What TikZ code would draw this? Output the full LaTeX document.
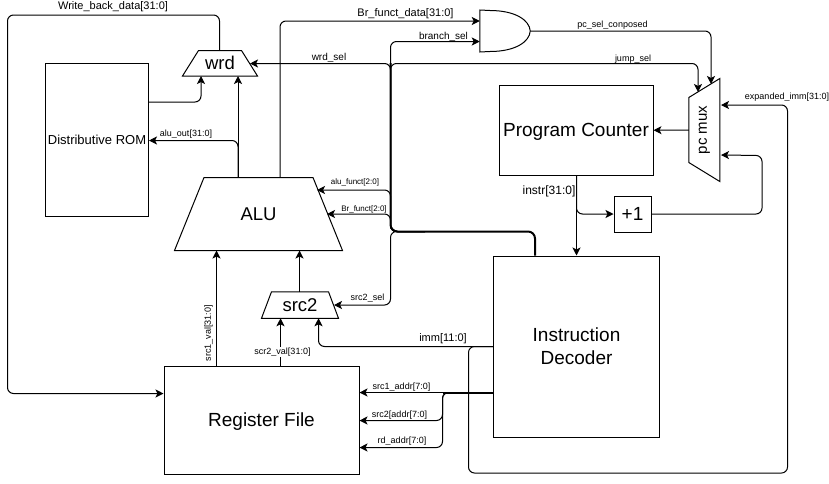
\documentclass[tikz,border=0pt]{standalone}
\usepackage{fontspec}
\setmainfont{Liberation Sans}
\usetikzlibrary{arrows.meta}

\tikzset{
  block/.style={draw,rectangle,inner sep=0pt,font=\fontsize{19}{23}\selectfont,align=center},
  muxbox/.style={rectangle,inner sep=0pt,font=\fontsize{18.5}{22}\selectfont},
  sig/.style={draw,rounded corners=6pt,line width=1pt,-{Stealth[length=8pt,width=8pt,inset=2pt]}},
  busline/.style={draw,rounded corners=7pt,line width=2pt},
  tag/.style={inner sep=0pt,yshift=-1pt,font=\fontsize{#1}{#1}\selectfont},
}
% outline of a mux: the node's box with its top edge pulled in by #2
\newcommand{\muxoutline}[2]{\draw (#1.south west) -- ([xshift=#2pt]#1.north west) -- ([xshift=-#2pt]#1.north east) -- (#1.south east) -- cycle;}

\begin{document}
\begin{tikzpicture}[x=1pt,y=-1pt,line width=1pt]
\useasboundingbox (0,0) rectangle (829,483);

\node[block,minimum width=103pt,minimum height=153pt,font=\fontsize{13}{16}\selectfont] (rom) at (97,140) {Distributive ROM};
\node[block,minimum width=195pt,minimum height=108.5pt,text height=17pt] (regfile) at (261.5,420.25) {Register File};
\node[block,minimum width=166pt,minimum height=181pt] (decoder) at (576.5,346.5) {Instruction\\Decoder};
\node[block,minimum width=154pt,minimum height=90.5pt,text height=17pt] (pc) at (576,130.25) {Program Counter};
\node[block,minimum width=37pt,minimum height=36pt] (plusone) at (632.5,214) {+1};

\node[muxbox,minimum width=74pt,minimum height=24.5pt] (wrd) at (220,63.25) {wrd};
\node[muxbox,minimum width=167pt,minimum height=72pt] (alu) at (258.5,214) {ALU};
\node[muxbox,minimum width=76pt,minimum height=25.5pt] (srcmux) at (300,305) {src2};
\node[muxbox,minimum width=102pt,minimum height=30pt,rotate=90,font=\fontsize{15}{18}\selectfont] (pcmux) at (704.3,130) {pc mux};
\node[rectangle,inner sep=0pt,minimum width=49.5pt,minimum height=41pt] (andgate) at (505,31) {};

\muxoutline{wrd}{16}
\muxoutline{alu}{29.5}
\muxoutline{srcmux}{10}
\draw (pcmux.south east) -- ([yshift=-19pt]pcmux.north east) -- ([yshift=19pt]pcmux.north west) -- (pcmux.south west) -- cycle;
\draw (andgate.north west) -- (490,10.5) .. controls (515,10.5) and (529.5,20) .. (andgate.east) .. controls (529.5,42) and (515,51.5) .. (490,51.5) -- (andgate.south west) -- cycle;

% control bus out of the decoder
\coordinate (bus) at (425,231.5);
\coordinate (buscorner) at (390.5,231.5);
\coordinate (alufnin) at (317,190);
\coordinate (brfnin) at (327,214);
\coordinate (wrdin) at (250,63.5);
\coordinate (jumpin) at (698,92);
\coordinate (pcselin) at (711,84);
\coordinate (immin) at (721,105);
\coordinate (plusin) at (721,155);
\coordinate (srcselin) at (334,305);

\draw[busline] (decoder.north -| 535,0) -- (535,231.5) -- (buscorner) -- (390.5,63);
\foreach \y/\T in {190/alufnin,214/brfnin,63.5/wrdin}
  \draw[sig] (bus) -- (buscorner) -- (buscorner|-0,\y) -- (\T);
\draw[sig] (bus) -- (buscorner) -- (390.5,41.5) -- (andgate.west |- 0,41.5);
\draw[sig] (bus) -- (buscorner) -- (390.5,63.5) -- (698,63.5) -- (jumpin);
\draw[sig] (bus) -- (buscorner) -- (390.5,305) -- (srcselin);

% data paths
\draw[sig] (wrd.north -| 219.5,0) -- (219.5,15) -- (7.5,15) -- (7.5,393.5) -- (regfile.west |- 0,393.5);
\draw[sig] (rom.east |- 0,102) -- (201,102) -- (wrd.south -| 201,0);
\draw[sig] (alu.north -| 238,0) -- (wrd.south -| 238,0);
\draw[sig] (alu.north -| 238,0) -- (238,140.5) -- (rom.east |- 0,140.5);
\draw[sig] (alu.north -| 280,0) -- (280,21) -- (andgate.west |- 0,21);
\draw[sig] (andgate.east) -- (711,31) -- (pcselin);
\draw[sig] (regfile.north -| 216.5,0) -- (alu.south -| 216.5,0);
\draw[sig] (srcmux.north -| 299.5,0) -- (alu.south -| 299.5,0);
\draw[sig] (regfile.north -| 280.5,0) -- (srcmux.south -| 280.5,0);
\draw[sig] (decoder.west |- 0,346.5) -- (318.5,346.5) -- (srcmux.south -| 318.5,0);
\draw[sig] (decoder.west |- 0,346.5) -- (468.5,346.5) -- (468.5,473) -- (787.5,473) -- (787.5,105) -- (immin);
\draw[line width=2pt] (decoder.west |- 0,392.5) -- (443,392.5);
\foreach \y in {420.5,447.5}
  \draw[sig] (decoder.west |- 0,392.5) -- (442.5,392.5) -- (442.5,\y) -- (regfile.east |- 0,\y);
\draw[sig] (decoder.west |- 0,392.5) -- (regfile.east |- 0,392.5);
\draw[sig] (pc.south -| 576.5,0) -- (decoder.north -| 576.5,0);
\draw[sig] (pc.south -| 576.5,0) -- (576.5,214) -- (plusone.west);
\draw[sig] (plusone.east) -- (762,214) -- (762,155.5) -- (plusin);
\draw[sig] (pcmux.north) -- (pc.east);

% labels, by size
\node[tag=11] (wbdatatag) at (113,6) {Write\_back\_data[31:0]};
\node[tag=11] (brdatatag) at (405.5,13) {Br\_funct\_data[31:0]};
\node[tag=11] (immtag) at (443,338) {imm[11:0]};
\node[tag=12] (instrtag) at (549,190) {instr[31:0]};
\node[tag=10] (wrdseltag) at (329,57) {wrd\_sel};
\node[tag=10] (branchtag) at (443.5,36) {branch\_sel};
\node[tag=9] (alufntag) at (186,133) {alu\_out[31:0]};
\node[tag=9] (pcseltag) at (612.5,24) {pc\_sel\_conposed};
\node[tag=9] (jumptag) at (633,58) {jump\_sel};
\node[tag=9] (exptag) at (787,96) {expanded\_imm[31:0]};
\node[tag=9] (srcseltag) at (367.5,297) {src2\_sel};
\node[tag=9,fill=white,inner ysep=1pt] (srctwotag) at (282.5,351) {scr2\_val[31:0]};
\node[tag=9] (addronetag) at (401.5,386) {src1\_addr[7:0]};
\node[tag=9] (addrtwotag) at (399.5,414) {src2[addr[7:0]};
\node[tag=9] (rdtag) at (402,440) {rd\_addr[7:0]};
\node[tag=9,rotate=90] (srconetag) at (208.5,332) {src1\_val[31:0]};
\node[tag=8] (alufunctag) at (355,181) {alu\_funct[2:0]};
\node[tag=8] (brfunctag) at (364,208) {Br\_funct[2:0]};
\end{tikzpicture}
\end{document}
